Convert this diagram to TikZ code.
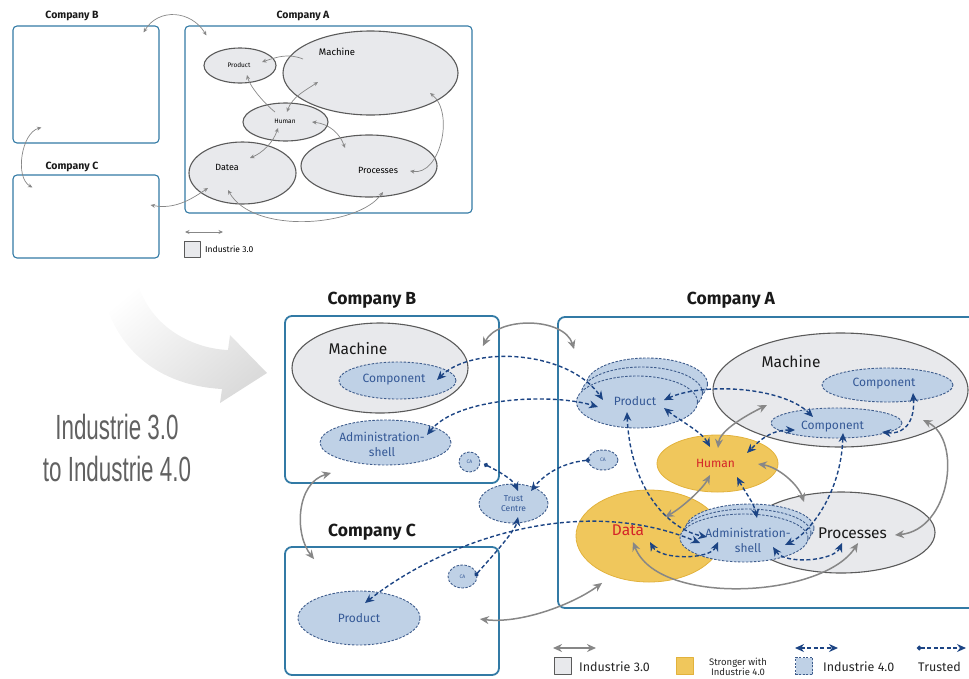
\documentclass[tikz,border=0pt]{standalone}
\usepackage{fontspec}
\setmainfont{Fira Sans}
\newfontfamily\narrowfont[FakeStretch=0.64]{Liberation Sans}
\usetikzlibrary{calc,arrows.meta,shapes.geometric}

\definecolor{boxblue}{RGB}{50,122,165}
\definecolor{ellfill}{RGB}{232,233,236}
\definecolor{ellline}{RGB}{90,90,90}
\definecolor{newfill}{RGB}{191,209,230}
\definecolor{dashline}{RGB}{62,92,140}
\definecolor{yelfill}{RGB}{240,199,92}
\definecolor{yelline}{RGB}{226,178,60}
\definecolor{arrgray}{RGB}{135,135,135}
\definecolor{arrblue}{RGB}{28,68,132}
\definecolor{lblblue}{RGB}{52,88,150}
\definecolor{lblred}{RGB}{212,36,40}

\newcommand\fsz[2]{\fontsize{#1}{#2}\selectfont}

\tikzset{
  company/.style={draw=boxblue, line width=1.8pt, rounded corners=7pt, inner sep=0pt},
  scompany/.style={draw=boxblue, line width=1.1pt, rounded corners=4pt, inner sep=0pt},
  ctitle/.style={font=\bfseries\fsz{17.5}{20}, text=black!90},
  sctitle/.style={font=\bfseries\fsz{10.5}{12}, text=black!90},
  oldell/.style={ellipse, draw=ellline, fill=ellfill, line width=1.1pt, inner sep=0pt},
  newell/.style={ellipse, draw=dashline, fill=newfill, line width=0.9pt, dash pattern=on 2.5pt off 1.5pt, inner sep=0pt, text=lblblue},
  yelell/.style={ellipse, draw=yelline, fill=yelfill, line width=0.8pt, inner sep=0pt},
  biglbl/.style={font=\fsz{15.5}{18}, text=black!90, inner sep=1pt},
  midlbl/.style={font=\fsz{12}{15}, text=lblblue, align=center, inner sep=1pt},
  garr/.style={draw=arrgray, line width=1.5pt, >={Stealth[length=9pt,width=8pt]}},
  sarr/.style={draw=arrgray, line width=0.7pt, >={Stealth[length=4.5pt,width=4pt]}},
  darr/.style={draw=arrblue, line width=1.4pt, dash pattern=on 4pt off 2.5pt, >={Stealth[length=9pt,width=8pt]}},
  tarr/.style={darr, arrows={Circle[length=4.5pt]-Stealth[length=9pt,width=8pt]}},
  legtxt/.style={anchor=west, font=\fsz{12.5}{14}, text=black!85, inner sep=0pt},
}

\begin{document}
\begin{tikzpicture}[x=1pt, y=-1pt, line join=round]
		\useasboundingbox (0,0) rectangle (969,678);
		
		%%%%% INDUSTRIE 3.0 %%%%%
		
		\node[sctitle] (sBt) at (72,16) {Company B};
		\node[sctitle] (sAt) at (303,16) {Company A};
		\node[sctitle] (sCt) at (72,167) {Company C};
		
		\node[scompany, minimum width=146pt, minimum height=117pt] (sB) at (86,84.5) {};
		\node[scompany, minimum width=287pt, minimum height=187pt] (sA) at (328.5,119.5) {};
		\node[scompany, minimum width=146pt, minimum height=83pt] (sC) at (86,216.5) {};
		
		\node[oldell, minimum width=175pt, minimum height=84pt] (sMae) at (370.5,73) {};
		\node[oldell, minimum width=72pt, minimum height=35pt] (sPre) at (240,65.5) {};
		\node[oldell, minimum width=85pt, minimum height=38pt] (sHue) at (285.5,122) {};
		\node[oldell, minimum width=107pt, minimum height=62pt] (sDae) at (242.5,173) {};
		\node[oldell, minimum width=136pt, minimum height=62pt] (sPce) at (369,166) {};
		
		\node[font=\fsz{9.5}{11}] (sMa) at (337,52) {Machine};
		\node[font=\fsz{6.5}{8}] (sPr) at (239,65) {Product};
		\node[font=\fsz{6.5}{8}] (sHu) at (285,121) {Human};
		\node[font=\fsz{9}{11}] (sDa) at (227,167) {Datea};
		\node[font=\fsz{9}{11}] (sPc) at (378,170) {Processes};
		
		\draw[sarr,<->] ($(sB.north east)+(-16,7)$) .. controls +(15,-25) and +(-15,-25) .. ($(sA.north west)+(22,10)$);
		\draw[sarr,->] ($(sMae)+(-67.5,-14)$) .. controls +(-15,-6) and +(15,-5) .. ($(sPre)+(22,-3.5)$);
		\draw[sarr,->] ($(sHue)+(-10.5,-10)$) .. controls +(-10,-8) and +(3,12) .. ($(sPre)+(7,9.5)$);
		\draw[sarr,<->] ($(sHue)+(1.5,-10)$) .. controls +(5,-15) and +(-12,8) .. ($(sMae)+(-52.5,9)$);
		\draw[sarr,<->] ($(sHue)+(26.5,0)$) .. controls +(18,2) and +(-5,-14) .. ($(sPce)+(-24,-18)$);
		\draw[sarr,<->] ($(sHue)+(-7.5,6)$) .. controls +(-5,15) and +(12,-5) .. ($(sDae)+(7.5,-15)$);
		\draw[sarr,<->] ($(sMae)+(59.5,20)$) .. controls +(25,20) and +(30,5) .. ($(sPce)+(41,5)$);
		\draw[sarr,<->] ($(sDae)+(-14.5,17)$) .. controls +(25,45) and +(-25,35) .. ($(sPce)+(14,26)$);
		\draw[sarr,<->] ($(sC.east)+(-9,-11.5)$) .. controls +(25,5) and +(-15,10) .. ($(sDae)+(-34.5,15)$);
		\draw[sarr,<->] ($(sB.south west)+(29,-16)$) .. controls +(-20,5) and +(-18,-10) .. ($(sC.north west)+(20,13)$);
		
		\coordinate (sLa) at (185,232);
		\coordinate (sLb) at (223,232);
		\draw[sarr,<->] (sLa) -- (sLb);
		\node[draw=ellline, fill=ellfill, line width=0.8pt, minimum size=16pt, inner sep=0pt] (sLbox) at (192,249) {};
		\node[anchor=west, font=\fsz{8.5}{10}, inner sep=0pt] (sLtxt) at (205,249) {Industrie 3.0};
		
		%%%%% TRANSITION %%%%%
		
		\shade[top color=white, bottom color=black!14, shading angle=40] (100,278) .. controls (108,340) and (150,385) .. (222,389) -- (220,403) -- (267,373) -- (230,335) -- (228,350) .. controls (185,348) and (145,320) .. (137,278) -- cycle;
		\node[font=\narrowfont\fsz{35}{42}, text=black!62, align=center] (trans) at (117,448) {Industrie 3.0\\to Industrie 4.0};
		
		%%%%% INDUSTRIE 4.0 %%%%%
		
		\node[ctitle] (labB) at (372,300) {Company B};
		\node[ctitle] (labA) at (731,300) {Company A};
		\node[ctitle] (labC) at (372,532) {Company C};
		
		\node[company, minimum width=214pt, minimum height=167pt] (coB) at (392,399.5) {};
		\node[company, minimum width=214pt, minimum height=128pt] (coC) at (392,611) {};
		\node[company, minimum width=440pt, minimum height=291pt] (coA) at (778,462.5) {};
		
		% company B
		\node[oldell, minimum width=176pt, minimum height=90pt] (maBe) at (380,368) {};
		\node[newell, minimum width=117pt, minimum height=37pt] (cpBe) at (397.5,380.5) {};
		\node[newell, minimum width=131pt, minimum height=45pt] (asBe) at (385.5,442.5) {};
		\node[newell, minimum width=21pt, minimum height=20pt, font=\fsz{5}{6}] (caB) at (469.5,462) {CA};
		\node[biglbl] (maB) at (358,349) {Machine};
		\node[midlbl] (cpB) at (394,380) {Component};
		\node[midlbl] (asB) at (382,444) {Administration-\\shell};
		
		\node[newell, minimum width=69pt, minimum height=39pt, font=\fsz{8.5}{10.5}, align=center] (trust) at (513.5,503.5) {Trust\\Centre};
		
		% company C
		\node[newell, minimum width=29pt, minimum height=23pt, font=\fsz{5}{6}] (caC) at (462.5,576.5) {CA};
		\node[newell, minimum width=122pt, minimum height=54pt, font=\fsz{12}{14}] (prC) at (359,618) {Product};
		
		% company A
		\node[oldell, minimum width=255pt, minimum height=114pt] (maAe) at (840.5,390) {};
		\node[oldell, minimum width=188pt, minimum height=81pt] (pcAe) at (841,532.5) {};
		\node[yelell, minimum width=146pt, minimum height=92pt] (daAe) at (649,536) {};
		\node[yelell, minimum width=121pt, minimum height=57pt] (huAe) at (717.5,463.5) {};
		\node[newell, minimum width=131pt, minimum height=34pt] (cp1Ae) at (887.5,385) {};
		\node[newell, minimum width=131pt, minimum height=30pt] (cp2Ae) at (836.5,423) {};
		\node[newell, minimum width=121pt, minimum height=52pt] (prAe3) at (647,384) {};
		\node[newell, minimum width=121pt, minimum height=52pt] (prAe2) at (642,393) {};
		\node[newell, minimum width=121pt, minimum height=52pt] (prAe1) at (637,402) {};
		\node[newell, minimum width=128pt, minimum height=48pt] (asAe3) at (750,528) {};
		\node[newell, minimum width=128pt, minimum height=48pt] (asAe2) at (747,533) {};
		\node[newell, minimum width=128pt, minimum height=48pt] (asAe1) at (744,538) {};
		\node[newell, minimum width=30pt, minimum height=20pt, font=\fsz{5}{6}] (caA) at (603,460) {CA};
		
		\node[biglbl] (maA) at (791,362) {Machine};
		\node[midlbl] (cp1A) at (884,384) {Component};
		\node[midlbl] (cp2A) at (832.5,427) {Component};
		\node[midlbl] (prA) at (635,401) {Product};
		\node[midlbl, text=lblred] (huA) at (715.5,463) {Human};
		\node[biglbl] (pcA) at (852.5,533) {Processes};
		\node[biglbl, text=lblred] (daA) at (628,530) {Data};
		\node[midlbl] (asA) at (748,540) {Administration-\\shell};
		
		% industrie 3.0 links
		\draw[garr,<->] ($(coB.north east)+(-17,31)$) .. controls +(15,-30) and +(-10,-32) .. ($(coA.north west)+(17,33)$);
		\draw[garr,<->] ($(coB.south west)+(47,-11)$) .. controls +(-35,10) and +(-20,-25) .. ($(coC.north west)+(30,13)$);
		\draw[garr,<->] ($(coC.east)+(-20,8)$) .. controls +(40,5) and +(-30,22) .. ($(coA.south west)+(45,-26)$);
		\draw[garr,<->] ($(huA)+(2.5,-15)$) .. controls +(2,-18) and +(-20,10) .. ($(maA)+(-24,43)$);
		\draw[garr,<->] ($(huA)+(42.5,1)$) .. controls +(20,3) and +(-6,-18) .. ($(pcA)+(-48.5,-31)$);
		\draw[garr,<->] ($(huA)+(-5.5,12)$) .. controls +(-8,15) and +(15,-8) .. ($(daA)+(37,-13)$);
		\draw[garr,<->] ($(maA)+(132,58)$) .. controls +(40,20) and +(55,-5) .. ($(pcA)+(42.5,2)$);
		\draw[garr,<->] ($(daA)+(5,12)$) .. controls +(25,65) and +(-35,55) .. ($(pcA)+(5.5,10)$);
		
		% industrie 4.0 links
		\draw[darr,<->] ($(cpB)+(43,0)$) .. controls +(35,-35) and +(-35,-50) .. ($(prA)+(-32,-1)$);
		\draw[darr,<->] ($(asB)+(45,-9)$) .. controls +(30,-38) and +(-45,-14) .. ($(prA)+(-37,6)$);
		\draw[darr,<->] ($(prA)+(-8,11)$) .. controls +(3,75) and +(-40,-8) .. ($(asA)+(-41,-3)$);
		\draw[darr,<->] ($(prA)+(29,7)$) .. controls +(15,12) and +(-8,-15) .. ($(huA)+(-5.5,-16)$);
		\draw[darr,<->] ($(prA)+(29,-1)$) .. controls +(40,-18) and +(-30,-30) .. ($(cp2A)+(-19.5,-10)$);
		\draw[darr,<->] ($(cp2A)+(-37.5,3)$) .. controls +(-25,0) and +(12,-12) .. ($(huA)+(31.5,-10)$);
		\draw[darr,<->] ($(cp2A)+(49.5,5)$) .. controls +(25,3) and +(2,25) .. ($(cp1A)+(29,9)$);
		\draw[darr,<->] ($(cp2A)+(10.5,6)$) .. controls +(-2,60) and +(25,-12) .. ($(asA)+(37,5)$);
		\draw[darr,<->] ($(huA)+(21.5,14)$) .. controls +(8,15) and +(-3,-15) .. ($(asA)+(9,-22)$);
		\draw[darr,<->] ($(asA)+(-30,2)$) .. controls +(-8,18) and +(10,18) .. ($(daA)+(22,12)$);
		\draw[darr,<->] ($(asA)+(25,7)$) .. controls +(12,18) and +(-8,18) .. ($(pcA)+(-10.5,10)$);
		\draw[darr,<->] ($(prC)+(6,-15)$) .. controls +(80,-63) and +(-120,-50) .. ($(asA)+(-48,3)$);
		
		% trusted
		\draw[tarr] ($(caB)+(14.5,2)$) .. controls +(12,6) and +(-5,-12) .. ($(trust)+(4.5,-12.5)$);
		\draw[tarr] ($(caA)+(-13,0)$) .. controls +(-30,3) and +(12,-15) .. ($(trust)+(17.5,-12.5)$);
		\draw[tarr] ($(caC)+(12.5,-0.5)$) .. controls +(10,-12) and +(-3,15) .. ($(trust)+(4.5,13.5)$);
		
		%%%%% LEGEND %%%%%
		
		\coordinate (lgA1) at (553,648);
		\coordinate (lgA2) at (596,648);
		\draw[garr,<->] (lgA1) -- (lgA2);
		\node[draw=ellline, fill=ellfill, line width=1pt, minimum size=17pt, inner sep=0pt] (lgB1) at (563,666) {};
		\node[legtxt] (lgT1) at (579,667) {Industrie 3.0};
		
		\node[draw=yelline, fill=yelfill, line width=0.6pt, minimum size=17pt, inner sep=0pt] (lgB2) at (685,666) {};
		\node[font=\fsz{9.5}{9.5}, text=black!85, align=center, inner sep=0pt] (lgT2) at (738,667) {Stronger with\\Industrie 4.0};
		
		\coordinate (lgA3) at (795,648);
		\coordinate (lgA4) at (838,648);
		\draw[darr,<->] (lgA3) -- (lgA4);
		\node[draw=dashline, fill=newfill, line width=0.8pt, dash pattern=on 2pt off 1.5pt, minimum size=17pt, inner sep=0pt] (lgB3) at (804,666) {};
		\node[legtxt] (lgT3) at (823,667) {Industrie 4.0};
		
		\coordinate (lgA5) at (917,648);
		\coordinate (lgA6) at (966,648);
		\draw[tarr] (lgA5) -- (lgA6);
		\node[legtxt] (lgT4) at (918,667) {Trusted};
		
		%%%%% END %%%%%
	\end{tikzpicture}
\end{document}
